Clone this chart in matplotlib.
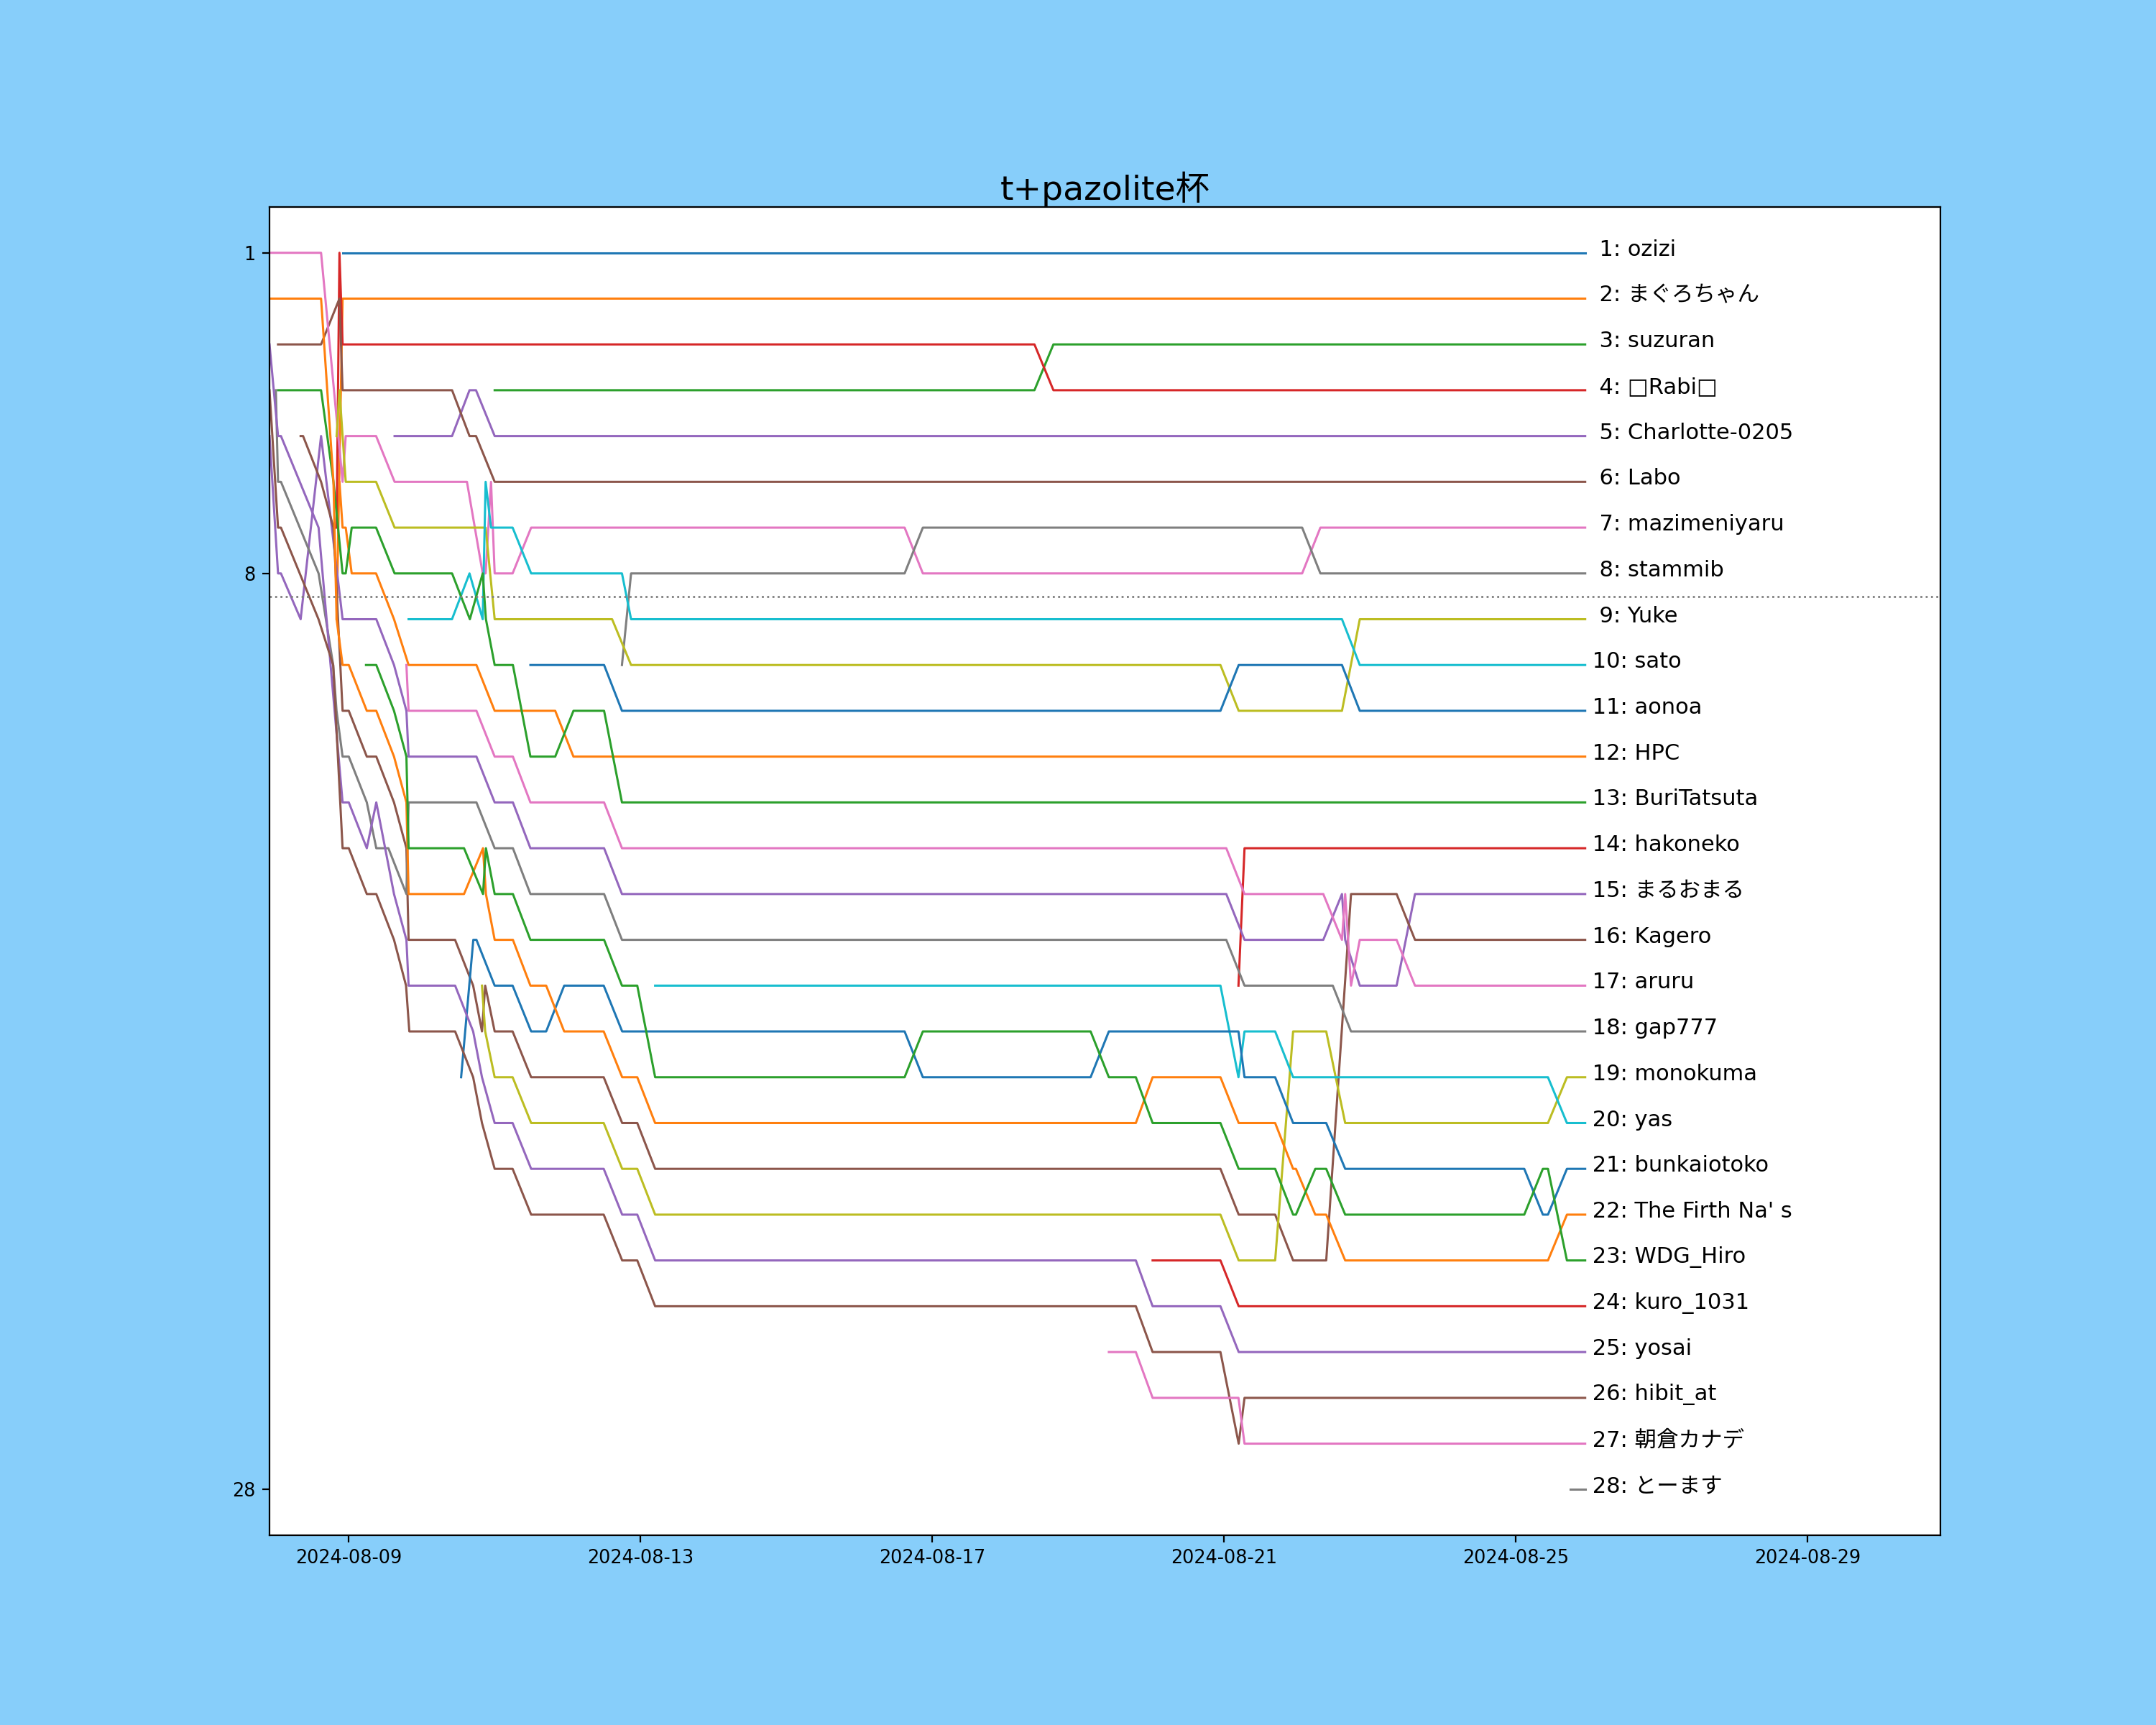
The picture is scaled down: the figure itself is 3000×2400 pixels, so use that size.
import pandas as pd
import matplotlib
matplotlib.use("Agg")
import matplotlib.pyplot as plt
import matplotlib.dates as mdates

plt.rcParams['font.family'] = ['DejaVu Sans', 'Noto Sans CJK JP']

# 
#  Datos: (días desde 2024-08-09 00:00, puesto)
# 
base = pd.Timestamp("2024-08-09")
t_end = 16.95

names = ["ozizi", "まぐろちゃん", "suzuran", "□Rabi□", "Charlotte-0205", "Labo",
         "mazimeniyaru", "stammib", "Yuke", "sato", "aonoa", "HPC", "BuriTatsuta",
         "hakoneko", "まるおまる", "Kagero", "aruru", "gap777", "monokuma", "yas",
         "bunkaiotoko", "The Firth Na' s", "WDG_Hiro", "kuro_1031", "yosai",
         "hibit_at", "朝倉カナデ", "とーます"]

p01 = [(-0.085, 1), (t_end, 1)]
p02 = [(-0.167, 9), (-0.085, 2), (t_end, 2)]
p03 = [(2.0, 4), (9.40, 4), (9.66, 3), (t_end, 3)]
p04 = [(-0.167, 7), (-0.128, 1), (-0.085, 3), (9.40, 3), (9.66, 4), (t_end, 4)]
p05 = [(0.628, 5), (1.416, 5), (1.655, 4), (1.744, 4), (2.0, 5), (t_end, 5)]
p06 = [(-0.97, 3), (-0.38, 3), (-0.128, 2), (-0.085, 4), (1.416, 4), (1.655, 5),
       (1.744, 5), (2.0, 6), (t_end, 6)]
p07 = [(-1.087, 1), (-0.38, 1), (-0.085, 6), (-0.042, 5), (0.374, 5), (0.628, 6),
       (1.62, 6), (1.836, 8), (1.876, 8), (1.95, 6), (2.0, 8), (2.246, 8), (2.5, 7),
       (7.62, 7), (7.87, 8), (13.07, 8), (13.32, 7), (t_end, 7)]
p08 = [(3.745, 10), (3.87, 8), (7.62, 8), (7.87, 7), (13.07, 7), (13.32, 8), (t_end, 8)]
p09 = [(-0.167, 5), (-0.128, 4), (-0.042, 6), (0.374, 6), (0.628, 7), (1.876, 7),
       (2.0, 9), (3.61, 9), (3.87, 10), (11.95, 10), (12.2, 11), (13.616, 11),
       (13.86, 9), (t_end, 9)]
p10 = [(0.82, 9), (1.415, 9), (1.655, 8), (1.836, 9), (1.876, 6), (1.95, 7), (2.246, 7),
       (2.5, 8), (3.745, 8), (3.87, 9), (13.616, 9), (13.86, 10), (t_end, 10)]
p11 = [(2.49, 10), (3.5, 10), (3.745, 11), (11.95, 11), (12.2, 10), (13.616, 10),
       (13.86, 11), (t_end, 11)]
p12 = [(-0.128, 6), (-0.085, 7), (-0.042, 7), (0.04, 8), (0.374, 8), (0.62, 9),
       (0.82, 10), (1.75, 10), (2.0, 11), (2.83, 11), (3.08, 12), (t_end, 12)]
p13 = [(-0.97, 4), (-0.38, 4), (-0.21, 6), (-0.085, 8), (-0.042, 8), (0.04, 7),
       (0.374, 7), (0.628, 8), (1.416, 8), (1.66, 9), (1.836, 8), (1.88, 9), (2.0, 10),
       (2.25, 10), (2.49, 12), (2.83, 12), (3.08, 11), (3.5, 11), (3.745, 13), (t_end, 13)]
p14 = [(12.197, 17), (12.28, 14), (t_end, 14)]
p15 = [(-1.087, 5), (-0.97, 8), (-0.93, 8), (-0.66, 9), (-0.38, 5), (-0.085, 9),
       (0.377, 9), (0.62, 10), (0.79, 11), (0.82, 12), (1.75, 12),
       (2.0, 13), (2.25, 13), (2.49, 14), (3.5, 14), (3.745, 15), (12.03, 15),
       (12.28, 16), (13.36, 16), (13.616, 15), (13.66, 16), (13.86, 17), (14.365, 17),
       (14.617, 15), (t_end, 15)]
p16 = [(-0.66, 5), (-0.627, 5), (-0.38, 6), (-0.21, 7), (-0.085, 11), (0.0, 11),
       (0.247, 12), (0.377, 12), (0.62, 13), (0.79, 14), (0.82, 16), (1.457, 16),
       (1.705, 17), (1.826, 18), (1.87, 17), (2.0, 18), (2.246, 18), (2.5, 19),
       (3.495, 19), (3.748, 20), (3.955, 20), (4.2, 21), (11.95, 21), (12.2, 22),
       (12.70, 22), (12.946, 23), (13.40, 23), (13.74, 15), (14.365, 15), (14.617, 16),
       (t_end, 16)]
p17 = [(0.79, 10), (0.82, 11), (1.75, 11), (2.0, 12), (2.25, 12), (2.49, 13), (3.5, 13),
       (3.745, 14), (12.03, 14), (12.28, 15), (13.36, 15), (13.616, 16), (13.66, 15),
       (13.74, 17), (13.86, 16), (14.365, 16), (14.617, 17), (t_end, 17)]
p18 = [(-1.0, 4), (-0.97, 6), (-0.93, 6), (-0.414, 8), (-0.214, 10), (-0.168, 11),
       (-0.085, 12), (0.0, 12), (0.247, 13), (0.377, 14), (0.543, 14), (0.79, 15),
       (0.82, 13), (1.75, 13), (2.0, 14), (2.25, 14), (2.49, 15), (3.5, 15), (3.745, 16),
       (12.03, 16), (12.28, 17), (13.49, 17), (13.74, 18), (t_end, 18)]
p19 = [(1.826, 17), (1.87, 18), (2.0, 19), (2.246, 19), (2.5, 20), (3.495, 20),
       (3.748, 21), (3.955, 21), (4.2, 22), (11.95, 22), (12.2, 23), (12.70, 23),
       (12.946, 18), (13.40, 18), (13.66, 20), (16.44, 20), (16.70, 19), (t_end, 19)]
p20 = [(4.2, 17), (11.95, 17), (12.197, 19), (12.28, 18), (12.70, 18), (12.946, 19),
       (16.44, 19), (16.70, 20), (t_end, 20)]
p21 = [(1.54, 19), (1.707, 16), (1.75, 16), (2.0, 17), (2.246, 17), (2.5, 18),
       (2.706, 18), (2.953, 17), (3.495, 17), (3.748, 18), (7.62, 18), (7.87, 19),
       (10.17, 19), (10.42, 18), (12.197, 18), (12.28, 19), (12.70, 19), (12.946, 20),
       (13.40, 20), (13.66, 21), (16.115, 21), (16.37, 22), (16.44, 22), (16.70, 21),
       (t_end, 21)]
p22 = [(-1.087, 2), (-0.38, 2), (-0.21, 6), (-0.167, 9), (-0.085, 10), (0.0, 10),
       (0.247, 11), (0.377, 11), (0.62, 12), (0.79, 13), (0.82, 15), (1.58, 15),
       (1.84, 14), (1.88, 15), (2.0, 16), (2.25, 16), (2.49, 17), (2.706, 17),
       (2.953, 18), (3.495, 18), (3.748, 19), (3.955, 19), (4.2, 20), (10.79, 20),
       (11.02, 19), (11.95, 19), (12.2, 20), (12.70, 20), (12.946, 21), (12.985, 21),
       (13.25, 22), (13.40, 22), (13.66, 23), (16.44, 23), (16.70, 22), (t_end, 22)]
p23 = [(0.236, 10), (0.377, 10), (0.62, 11), (0.79, 12), (0.82, 14), (1.58, 14),
       (1.84, 15), (1.88, 14), (2.0, 15), (2.25, 15), (2.49, 16), (3.5, 16), (3.745, 17),
       (3.955, 17), (4.2, 19), (7.62, 19), (7.87, 18), (10.17, 18), (10.42, 19),
       (10.79, 19), (11.02, 20), (11.95, 20), (12.2, 21), (12.70, 21), (12.946, 22),
       (12.985, 22), (13.25, 21), (13.40, 21), (13.66, 22), (16.115, 22), (16.37, 21),
       (16.44, 21), (16.70, 23), (t_end, 23)]
p24 = [(11.02, 23), (11.95, 23), (12.2, 24), (t_end, 24)]
p25 = [(-1.087, 3), (-0.97, 5), (-0.93, 5), (-0.414, 7), (-0.085, 13), (0.0, 13),
       (0.247, 14), (0.377, 13), (0.62, 15), (0.79, 16), (0.82, 17), (1.458, 17),
       (1.705, 18), (1.826, 19), (2.0, 20), (2.246, 20), (2.5, 21), (3.495, 21),
       (3.748, 22), (3.955, 22), (4.2, 23), (10.79, 23), (11.02, 24), (11.95, 24),
       (12.2, 25), (t_end, 25)]
p26 = [(-1.087, 4), (-0.97, 7), (-0.93, 7), (-0.415, 9), (-0.214, 10), (-0.085, 14),
       (0.0, 14), (0.247, 15), (0.377, 15), (0.62, 16), (0.785, 17), (0.83, 18),
       (1.458, 18), (1.705, 19), (1.826, 20), (2.0, 21), (2.246, 21), (2.5, 22),
       (3.495, 22), (3.748, 23), (3.955, 23), (4.2, 24), (10.79, 24), (11.02, 25),
       (11.95, 25), (12.2, 27), (12.28, 26), (t_end, 26)]
p27 = [(10.42, 25), (10.79, 25), (11.02, 26), (12.197, 26), (12.28, 27), (t_end, 27)]
p28 = [(16.75, 28), (t_end, 28)]

series = [p01, p02, p03, p04, p05, p06, p07, p08, p09, p10, p11, p12, p13, p14,
          p15, p16, p17, p18, p19, p20, p21, p22, p23, p24, p25, p26, p27, p28]

x_left = -1.087
x_right = 21.82


def to_time(days):
    return base + pd.to_timedelta(list(days), unit="D")


# 
#  Gráfico
# 
fig, ax = plt.subplots(figsize=(15, 12), dpi=200)
fig.patch.set_facecolor("lightskyblue")

for i, (name, pts) in enumerate(zip(names, series)):
    d, r = zip(*pts)
    ax.plot(to_time(d), r, color=f"C{i % 10}", lw=1.1)
    ax.text(to_time([d[-1]])[0], r[-1] - 0.07, f" {i + 1:>2}: {name}", fontsize=11,
            va="center", ha="left")

ax.axhline(8.5, color="gray", linestyle=":", lw=1)

ax.set_ylim(29, 0)
ax.set_yticks([1, 8, 28])
ax.set_xlim(to_time([x_left])[0], to_time([x_right])[0])
ax.xaxis.set_major_locator(mdates.DayLocator(bymonthday=[1, 5, 9, 13, 17, 21, 25, 29]))
ax.xaxis.set_major_formatter(mdates.DateFormatter("%Y-%m-%d"))
ax.tick_params(labelsize=9.2)
ax.set_title("t+pazolite杯", fontsize=17, pad=1)

plt.savefig("out.png", dpi=200, facecolor=fig.get_facecolor())
